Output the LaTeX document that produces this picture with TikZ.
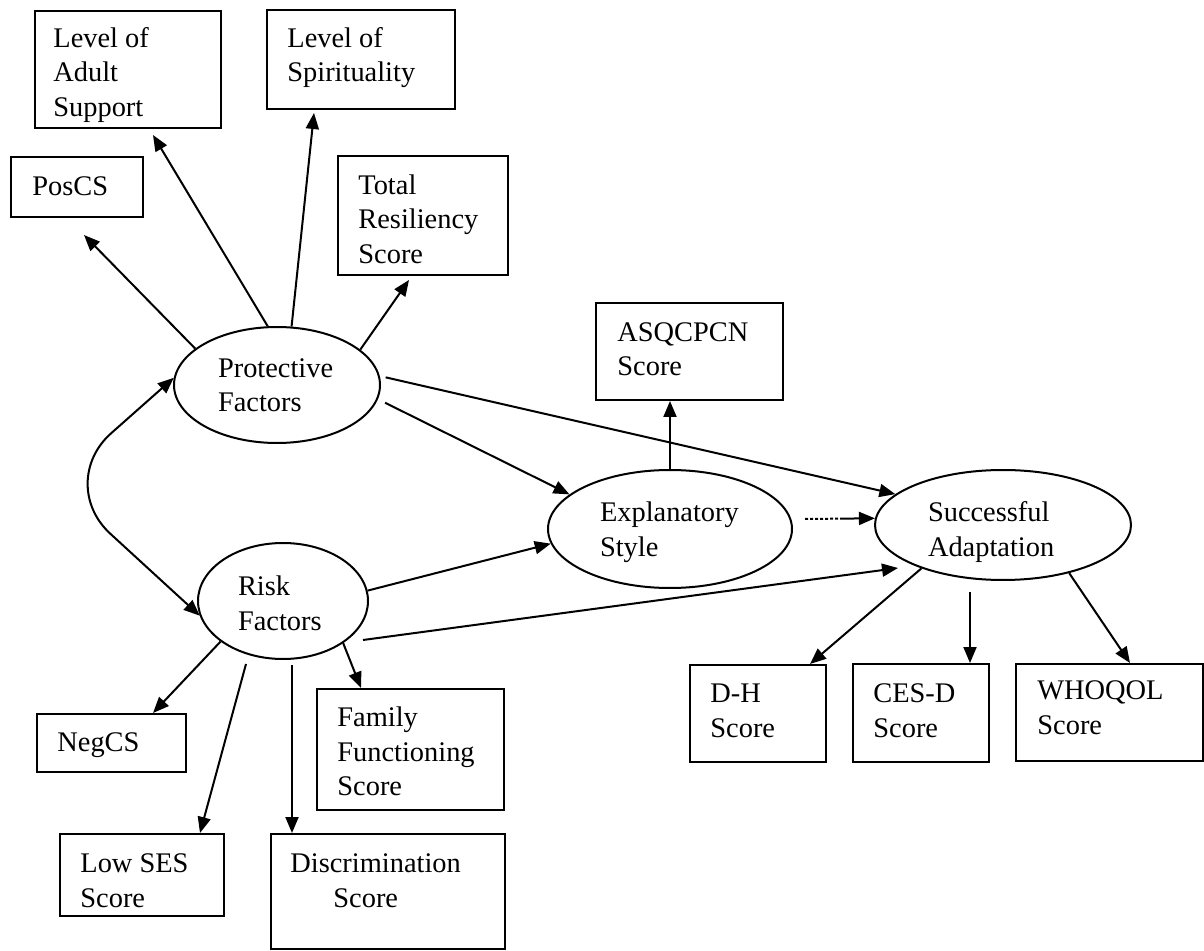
\documentclass[tikz,border=0pt]{standalone}
\usepackage{fontspec}
\setmainfont{Liberation Serif}
\usetikzlibrary{arrows.meta,shapes.geometric}
\newcommand{\diagfont}{\fontsize{14.2pt}{17.25pt}\selectfont}
\newcommand{\txtlines}[1]{\begin{tabular}[t]{@{}l@{}}#1\end{tabular}}
% invisible strut that raises the top of a first line, so the label sits lower in its ellipse
\newcommand{\topstrut}[1]{\rule{0pt}{#1}}

\begin{document}
\begin{tikzpicture}[x=0.5pt,y=-0.5pt,
  box/.style={draw, line width=1pt, rectangle, inner sep=0pt, anchor=north west},
  latent/.style={draw, line width=1pt, ellipse, inner sep=0pt, align=left, font=\diagfont},
  lbl/.style={inner sep=0pt, anchor=base west, font=\diagfont},
  arr/.style={line width=1pt, -{Triangle[length=8pt,width=6.5pt]}},
  biarr/.style={line width=1pt, {Triangle[length=8pt,width=6.5pt]}-{Triangle[length=8pt,width=6.5pt]}},
]
\useasboundingbox (0,0) rectangle (1204,951);

% latent constructs
\node[latent, minimum width=103pt, minimum height=58pt, text width=59pt] (pf) at (277,385) {Protective\\Factors};
\node[latent, minimum width=85pt, minimum height=58pt, text width=45pt] (rf) at (283,601) {\topstrut{12.2pt}Risk\\Factors};
\node[latent, minimum width=122pt, minimum height=59pt, text width=70pt] (es) at (670,529) {\topstrut{13.3pt}Explanatory\\Style};
\node[latent, minimum width=128pt, minimum height=55pt, text width=75pt] (sa) at (1003,525) {\topstrut{16.8pt}Successful\\Adaptation};

% indicator boxes
\node[box, minimum width=93pt,   minimum height=58.5pt] (adult)  at (34,10)   {};
\node[box, minimum width=94pt,   minimum height=49.5pt] (spirit) at (266,9)   {};
\node[box, minimum width=66pt,   minimum height=30pt]   (poscs)  at (10,156)  {};
\node[box, minimum width=85pt,   minimum height=59.5pt] (total)  at (337,155) {};
\node[box, minimum width=93.5pt, minimum height=48.5pt] (asq)    at (595,302) {};
\node[box, minimum width=74.5pt, minimum height=29pt]   (negcs)  at (36,713)  {};
\node[box, minimum width=93.5pt, minimum height=60.5pt] (family) at (316,688) {};
\node[box, minimum width=82pt,   minimum height=41pt]   (lowses) at (59,833)  {};
\node[box, minimum width=117pt,  minimum height=57.5pt] (discr)  at (270,833) {};
\node[box, minimum width=68pt,   minimum height=48.5pt] (dh)     at (689,664) {};
\node[box, minimum width=68pt,   minimum height=49pt]   (cesd)   at (852,663) {};
\node[box, minimum width=93.5pt, minimum height=48.5pt] (whoqol) at (1015,663) {};

% box labels
\node[lbl] (adult-t)  at (53,47.5)   {\txtlines{Level of\\Adult\\Support}};
\node[lbl] (spirit-t) at (287,47.5)  {\txtlines{Level of\\Spirituality}};
\node[lbl] (poscs-t)  at (32,195.5)  {PosCS};
\node[lbl] (total-t)  at (358,194.5) {\txtlines{Total\\Resiliency\\Score}};
\node[lbl] (asq-t)    at (617,341.5) {\txtlines{ASQCPCN\\Score}};
\node[lbl] (negcs-t)  at (57,751)    {NegCS};
\node[lbl] (family-t) at (337,726.5) {\txtlines{Family\\Functioning\\Score}};
\node[lbl] (lowses-t) at (80,872.5)  {\txtlines{Low SES\\Score}};
\node[lbl] (discr-t)  at (290,872.5) {\txtlines{Discrimination\\\hspace*{21.5pt}Score}};
\node[lbl] (dh-t)     at (710,702.5) {\txtlines{D-H\\Score}};
\node[lbl] (cesd-t)   at (873,702.5) {\txtlines{CES-D\\Score}};
\node[lbl] (whoqol-t) at (1037,699.5){\txtlines{WHOQOL\\Score}};

% free ends of the loading arrows
\coordinate (poscs-in)  at ([shift={(7,17)}]poscs.south);
\coordinate (adult-in)  at ([shift={(25,6)}]adult.south);
\coordinate (spirit-in) at ([shift={(-47,3)}]spirit.south);
\coordinate (total-in)  at ([shift={(-14,4)}]total.south);
\coordinate (rs-from)   at ([shift={(80,39)}]rf.center);
\coordinate (rs-to)     at ([shift={(-105,43)}]sa.center);
\coordinate (es-from)   at ([shift={(135,-10)}]es.center);
\coordinate (sc-from)   at ([shift={(-33,67)}]sa.center);
\coordinate (rl-from)   at ([shift={(-37,63)}]rf.center);
\coordinate (rd-from)   at ([shift={(9,64)}]rf.center);
\coordinate (pr-bend)   at (55,483);

% protective factor loadings
\draw[arr] (pf.156) -- (poscs-in);
\draw[arr] (pf.99)  -- (adult-in);
\draw[arr] (pf.76)  -- (spirit-in);
\draw[arr] (pf.23)  -- (total-in);

% structural paths
\draw[arr, shorten <=4pt] (pf.-8) -- (es.161);
\draw[arr, shorten <=3pt] (pf.5)  -- (sa.164);
\draw[arr] (rf.7) -- (es.187);
\draw[arr] (rs-from) -- (rs-to);
\draw[arr, dash pattern=on 1.5pt off 1pt on 1.5pt off 1pt on 1.5pt off 1pt on 1.5pt off 1pt on 1.5pt off 1pt on 1.5pt off 1pt on 1.5pt off 1pt on 40pt off 1pt] (es-from) -- (sa.177);
\draw[biarr, rounded corners=37.5pt] (pf.176) -- (pr-bend) -- (rf.190);

% explanatory style indicator
\draw[arr] (es.north) -- (es.north |- asq.south);

% risk factor loadings
\draw[arr] (rf.213) -- ([xshift=58.5pt]negcs.north west);
\draw[arr] (rl-from) -- ([xshift=70.5pt]lowses.north west);
\draw[arr] (rd-from) -- (rd-from |- discr.north);
\draw[arr] (rf.-35) -- ([xshift=22.5pt]family.north west);

% outcome indicators
\draw[arr] (sa.208) -- ([xshift=-8.5pt]dh.north east);
\draw[arr] (sc-from) -- (sc-from |- cesd.north);
\draw[arr] (sa.-36) -- ([xshift=57.5pt]whoqol.north west);
\end{tikzpicture}
\end{document}
